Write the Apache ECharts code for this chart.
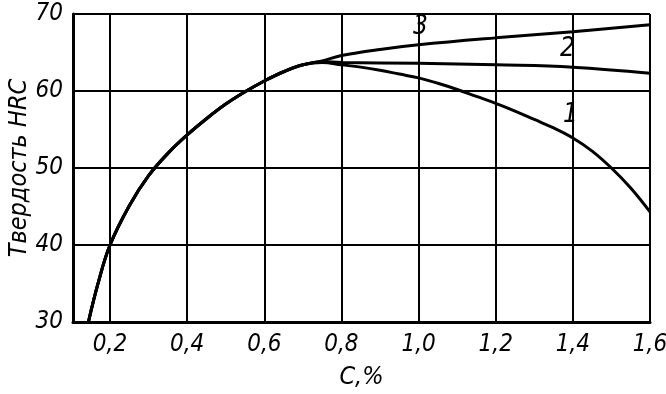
<!DOCTYPE html>
<html>
<head>
<meta charset="utf-8">
<script src="https://cdn.jsdelivr.net/npm/echarts@6/dist/echarts.min.js"></script>
<style>html,body{margin:0;padding:0;background:#fff}#c{width:666px;height:394px}</style>
</head>
<body>
<div id="c"></div>
<script>
const xTicks = [0.2, 0.4, 0.6, 0.8, 1.0, 1.2, 1.4, 1.6];
const yTicks = [30, 40, 50, 60, 70];
const commonX = [0.144, 0.17, 0.2, 0.25, 0.3, 0.35, 0.4, 0.45, 0.5, 0.55, 0.6, 0.65, 0.7];
const commonY = [30, 35.2, 40.0, 45.1, 49.0, 51.9, 54.3, 56.4, 58.3, 59.9, 61.3, 62.5, 63.4];
const curve1X = [0.75, 0.8, 0.85, 0.9, 0.95, 1.0, 1.05, 1.1, 1.15, 1.2, 1.25, 1.3, 1.35, 1.4, 1.45, 1.5, 1.55, 1.6];
const curve1Y = [63.7, 63.4, 63.1, 62.7, 62.2, 61.7, 61.0, 60.2, 59.3, 58.4, 57.4, 56.3, 55.2, 53.9, 52.2, 50.0, 47.4, 44.3];
const curve2X = [0.75, 0.8, 1.0, 1.2, 1.4, 1.6];
const curve2Y = [63.8, 63.7, 63.6, 63.4, 63.1, 62.3];
const curve3X = [0.75, 0.8, 0.9, 1.0, 1.2, 1.4, 1.6];
const curve3Y = [63.9, 64.6, 65.4, 66.0, 66.9, 67.7, 68.6];
const curveLabels = ['1', '2', '3'];
const xName = 'C,%';
const yName = 'Твердость HRC';

const FONT = "'DejaVu Sans Condensed', 'Liberation Sans Narrow', 'DejaVu Sans', sans-serif";
function pts(xs, ys) { return xs.map((x, i) => [x, ys[i]]); }
function fmt(v) { return v.toFixed(1).replace('.', ','); }

const chart = echarts.init(document.getElementById('c'), null, {renderer: 'canvas'});
const lineStyle = {color: '#000', width: 3};
const mk = (xs, ys) => ({
  type: 'line', smooth: 0.4, symbol: 'none', lineStyle: lineStyle,
  data: pts(commonX.concat(xs), commonY.concat(ys)), z: 5
});
chart.setOption({
  animation: false,
  backgroundColor: '#fff',
  grid: {left: 73, right: 16, top: 14, bottom: 72, containLabel: false, outerBoundsMode: 'none'},
  xAxis: {
    type: 'value', min: 0.104, max: 1.6,
    name: xName, nameLocation: 'middle', nameGap: 43, nameMoveOverlap: false,
    nameTextStyle: {fontFamily: FONT, fontStyle: 'italic', fontSize: 25, color: '#000'},
    axisLine: {show: true, onZero: false, lineStyle: {color: '#000', width: 3}},
    axisTick: {show: false, customValues: xTicks},
    axisLabel: {customValues: xTicks, formatter: v => fmt(v), margin: 11,
      fontFamily: FONT, fontStyle: 'italic', fontSize: 24, color: '#000'},
    splitLine: {show: true, lineStyle: {color: '#000', width: 2}}
  },
  yAxis: {
    type: 'value', min: 30, max: 70, interval: 10,
    name: yName, nameLocation: 'middle', nameGap: 41, nameRotate: 90, nameMoveOverlap: false,
    nameTextStyle: {fontFamily: FONT, fontStyle: 'italic', fontSize: 25, color: '#000'},
    axisLine: {show: true, lineStyle: {color: '#000', width: 3}},
    axisTick: {show: false},
    axisLabel: {margin: 10, fontFamily: FONT, fontStyle: 'italic', fontSize: 24, color: '#000'},
    splitLine: {show: true, lineStyle: {color: '#000', width: 2}}
  },
  graphic: [
    {type: 'text', left: 413, top: 14, style: {text: curveLabels[2], font: 'italic 26px ' + FONT, fill: '#000'}},
    {type: 'text', left: 560, top: 36, style: {text: curveLabels[1], font: 'italic 26px ' + FONT, fill: '#000'}},
    {type: 'text', left: 563, top: 102, style: {text: curveLabels[0], font: 'italic 26px ' + FONT, fill: '#000'}}
  ],
  series: [mk(curve1X, curve1Y), mk(curve2X, curve2Y), mk(curve3X, curve3Y)]
});
</script>
</body>
</html>
